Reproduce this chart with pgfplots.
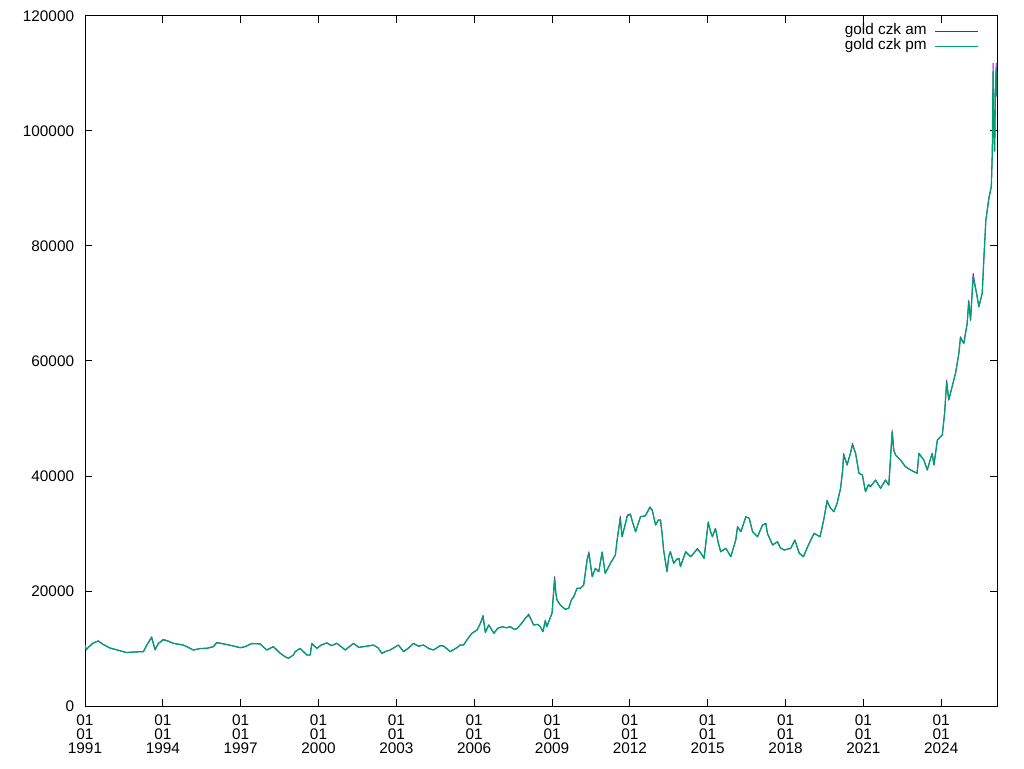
\documentclass[border=0pt]{standalone}
\usepackage{fontspec}
\setmainfont{Liberation Sans}
\usepackage{pgfplots}
\usepackage{pgfplotstable}
\pgfplotsset{compat=1.18}
\definecolor{amcol}{RGB}{148,0,211}
\definecolor{pmcol}{RGB}{0,158,115}
\pgfplotstableread{
x am pm
1991.00 10600 10600
1991.05 9740 9800
1991.15 10300 10300
1991.30 10900 10900
1991.51 11350 11300
1991.70 10700 10700
1991.96 10090 10090
1992.20 9800 9800
1992.60 9270 9300
1992.90 9400 9400
1993.25 9450 9450
1993.38 10600 10600
1993.57 12050 11900
1993.70 9740 9800
1993.83 10900 10900
1994.02 11600 11500
1994.20 11300 11300
1994.40 10900 10900
1994.79 10600 10600
1995.18 9740 9740
1995.45 10000 10000
1995.69 10030 10030
1995.95 10320 10320
1996.08 11070 11000
1996.46 10700 10700
1996.75 10400 10400
1996.98 10140 10140
1997.17 10320 10320
1997.43 10900 10850
1997.75 10800 10800
1998.00 9740 9740
1998.26 10320 10320
1998.52 9160 9200
1998.70 8600 8600
1998.84 8290 8290
1999.03 8870 8870
1999.10 9450 9450
1999.29 10030 10030
1999.55 8870 8870
1999.68 8870 8870
1999.74 10900 10800
1999.94 10030 10030
2000.10 10600 10600
2000.32 11000 10950
2000.50 10500 10500
2000.71 10900 10900
2001.03 9740 9740
2001.35 10900 10900
2001.55 10200 10200
2001.74 10320 10320
2002.12 10600 10600
2002.30 10100 10100
2002.44 9160 9160
2002.60 9500 9500
2002.76 9740 9740
2003.08 10600 10600
2003.28 9450 9450
2003.50 10200 10200
2003.66 10900 10900
2003.85 10400 10400
2004.05 10600 10600
2004.25 10000 10000
2004.43 9740 9740
2004.69 10490 10490
2004.82 10430 10430
2005.08 9450 9450
2005.33 10140 10140
2005.46 10600 10600
2005.59 10600 10600
2005.72 11480 11480
2005.91 12640 12640
2006.11 13220 13220
2006.25 14500 14500
2006.34 15800 15600
2006.43 12800 12800
2006.56 14090 14090
2006.76 12640 12640
2006.90 13500 13500
2007.08 13790 13790
2007.25 13600 13600
2007.39 13790 13790
2007.55 13300 13300
2007.66 13500 13500
2007.85 14500 14500
2007.97 15250 15250
2008.10 16000 15800
2008.20 15000 15000
2008.29 14090 14090
2008.45 14200 14200
2008.55 13790 13790
2008.65 12920 12920
2008.74 14960 14800
2008.80 13790 13790
2008.90 15000 15000
2009.00 16120 16120
2009.10 22490 22100
2009.15 19500 19500
2009.19 18430 18430
2009.32 17560 17560
2009.51 16810 16810
2009.64 17000 17000
2009.75 18500 18500
2009.84 19010 19010
2009.96 20470 20470
2010.10 20500 20500
2010.22 21040 21040
2010.35 25390 25390
2010.42 26830 26600
2010.55 22490 22490
2010.67 23940 23940
2010.80 23360 23360
2010.93 26830 26700
2011.05 23070 23070
2011.25 24810 24810
2011.44 26260 26260
2011.50 28570 28570
2011.63 33040 32600
2011.70 29440 29440
2011.76 30500 30500
2011.90 33210 33000
2012.02 33380 33380
2012.10 32000 32000
2012.22 30310 30310
2012.41 32920 32920
2012.60 33090 33090
2012.77 34660 34500
2012.86 34080 34080
2012.99 31480 31480
2013.10 32350 32350
2013.18 32350 32350
2013.24 30030 30030
2013.30 27130 27130
2013.43 23360 23360
2013.50 26000 26000
2013.56 26830 26830
2013.69 24810 24810
2013.80 25500 25500
2013.89 25680 25680
2013.95 24230 24230
2014.15 26830 26830
2014.34 25970 25970
2014.45 26500 26500
2014.60 27420 27300
2014.75 26500 26500
2014.86 25680 25680
2015.02 32060 31900
2015.10 30500 30500
2015.18 29440 29440
2015.30 30890 30890
2015.40 28500 28500
2015.50 26830 26830
2015.70 27420 27420
2015.89 25970 25970
2016.08 28840 28840
2016.15 31180 31180
2016.28 30310 30310
2016.47 32920 32920
2016.60 32640 32640
2016.73 30310 30310
2016.92 29440 29440
2017.11 31470 31470
2017.24 31760 31760
2017.30 30030 30030
2017.50 28000 28000
2017.69 28570 28570
2017.80 27500 27500
2017.95 27130 27130
2018.20 27420 27420
2018.36 28860 28860
2018.53 26550 26550
2018.69 25970 25970
2018.85 27710 27710
2019.10 30030 30030
2019.33 29440 29440
2019.47 32350 32350
2019.60 35820 35600
2019.72 34500 34500
2019.86 33790 33790
2019.99 35290 35290
2020.12 37860 37860
2020.20 41000 41000
2020.24 43940 43700
2020.37 41910 41910
2020.50 43940 43940
2020.58 45690 45400
2020.70 43940 43940
2020.83 40470 40470
2020.96 40180 40180
2021.08 37280 37280
2021.20 38500 38500
2021.27 38140 38140
2021.47 39300 39300
2021.66 37860 37860
2021.85 39300 39300
2021.98 38430 38430
2022.11 48000 47600
2022.17 44500 44500
2022.24 43650 43650
2022.43 42780 42780
2022.62 41620 41620
2022.82 41040 41040
2023.07 40470 40470
2023.14 43940 43940
2023.33 42780 42780
2023.46 41040 41040
2023.65 43940 43940
2023.72 41910 41910
2023.85 46260 46260
2024.04 47130 47130
2024.13 50900 50900
2024.21 56690 56300
2024.29 53210 53210
2024.42 55530 55530
2024.55 57860 57860
2024.68 61330 61330
2024.74 64220 64000
2024.87 63070 63070
2025.00 66550 66550
2025.06 70600 70400
2025.13 67100 67100
2025.23 75250 74600
2025.36 71800 71800
2025.45 69440 69440
2025.58 71800 71800
2025.64 77560 77560
2025.72 84520 84520
2025.84 88570 88300
2025.93 90310 90310
2025.97 96400 96400
2026.00 111800 110300
2026.02 101300 101300
2026.06 96500 96500
2026.09 108300 108000
2026.12 111800 110800
2026.15 106000 106000
}\goldtable
\begin{document}
\fontsize{11.5pt}{10.4pt}\selectfont
\begin{tikzpicture}
\path[use as bounding box] (0,0) rectangle (768pt,576pt);
\begin{axis}[
  at={(63.75pt,46.5pt)}, anchor=south west,
  scale only axis, width=684pt, height=517.5pt,
  xmin=1991, xmax=2026.15, ymin=0, ymax=120000,
  xtick={1991,1994,1997,2000,2003,2006,2009,2012,2015,2018,2021,2024},
  xticklabels={{01\\01\\1991},{01\\01\\1994},{01\\01\\1997},{01\\01\\2000},{01\\01\\2003},{01\\01\\2006},{01\\01\\2009},{01\\01\\2012},{01\\01\\2015},{01\\01\\2018},{01\\01\\2021},{01\\01\\2024}},
  ytick={0,20000,40000,60000,80000,100000,120000},
  yticklabels={0,20000,40000,60000,80000,100000,120000},
  scaled y ticks=false,
  tick align=inside, tick pos=both,
  major tick length=5.25pt,
  minor tick num=0,
  axis line style={line width=0.75pt},
  every tick/.style={black, line width=0.75pt},
  xticklabel style={align=center, inner sep=0pt, yshift=-6.5pt, font=\fontsize{11.5pt}{10.6pt}\selectfont},
  yticklabel style={inner sep=0pt, xshift=-8pt, font=\fontsize{11.5pt}{10.6pt}\selectfont},
  legend plot pos=right,
  legend cell align=right,
  legend image code/.code={\draw[#1, line width=0.75pt] (0pt,0pt) -- (32.25pt,0pt);},
  legend style={draw=none, fill=none, at={(rel axis cs:1,1)}, anchor=north east,
    xshift=-13.5pt, yshift=-6pt, inner sep=0pt, row sep=0pt, /tikz/column sep=6pt,
    font=\fontsize{11.5pt}{10.6pt}\selectfont,
    nodes={inner sep=0pt, text height=8pt, text depth=3.25pt}},
]
\addplot[amcol, line width=0.6pt, line join=round] table[x=x, y=am] {\goldtable};
\addlegendentry{gold czk am}
\addplot[pmcol, line width=1pt, line join=round] table[x=x, y=pm] {\goldtable};
\addlegendentry{gold czk pm}
\end{axis}
\end{tikzpicture}
\end{document}
